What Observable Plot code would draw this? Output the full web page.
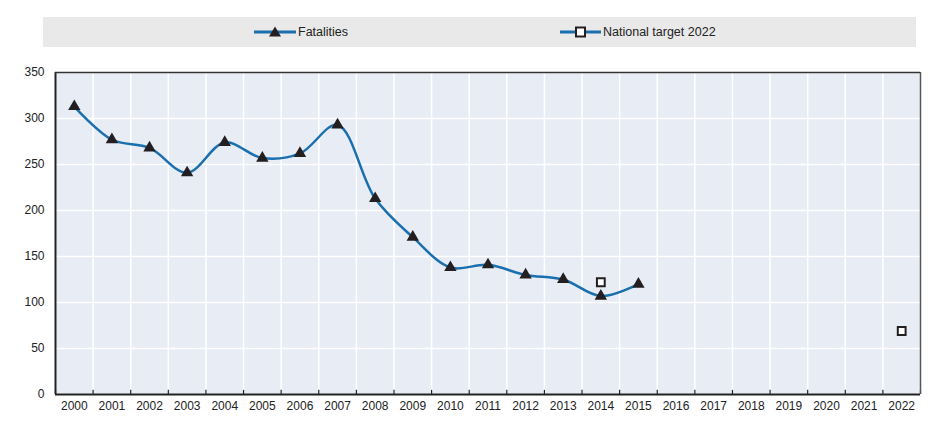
<!DOCTYPE html>
<html>
<head>
<meta charset="utf-8">
<script src="https://cdn.jsdelivr.net/npm/d3@7"></script>
<script src="https://cdn.jsdelivr.net/npm/@observablehq/plot@0.6"></script>
<style>
  body { margin: 0; background: #fff; font-family: "Liberation Sans", Arial, sans-serif; }
  #legend {
    position: absolute; left: 43px; top: 17px; width: 873px; height: 30px;
    background: #e9e9e9;
    font-family: "Liberation Sans Narrow", "Arial Narrow", "Liberation Sans", sans-serif;
    font-size: 12.5px; color: #222;
  }
  .item { position: absolute; top: 0; height: 30px; display: flex; align-items: center; }
  .item svg { margin-right: 2px; }
  #chart { position: absolute; left: 0; top: 47px; }
</style>
</head>
<body>
<div id="legend">
  <div class="item" style="left:211px">
    <svg width="42" height="14"><line x1="0" y1="7" x2="42" y2="7" stroke="#1a6fae" stroke-width="3"/><path d="M21,1.5 L27,11.5 L15,11.5 Z" fill="#231f20"/></svg>
    <span>Fatalities</span>
  </div>
  <div class="item" style="left:517px">
    <svg width="41" height="14"><line x1="0" y1="7" x2="41" y2="7" stroke="#1a6fae" stroke-width="3"/><rect x="16" y="2.5" width="9" height="9" fill="#fff" stroke="#231f20" stroke-width="2"/></svg>
    <span>National target 2022</span>
  </div>
</div>
<div id="chart"></div>
<script>
const years = d3.range(2000, 2023);
const fatalityYears = [2000,2001,2002,2003,2004,2005,2006,2007,2008,2009,2010,2011,2012,2013,2014,2015];
const fatalities = [313,277,268,241,274,257,262,293,213,171,138,141,130,125,107,120];
const targetYears = [2014, 2022];
const targets = [122, 69];
const yTicks = [0,50,100,150,200,250,300,350];

const fatalData = fatalityYears.map((y, i) => ({year: y, value: fatalities[i]}));
const targetData = targetYears.map((y, i) => ({year: y, value: targets[i]}));
const bounds = years.map(y => y - 0.5).concat([years[years.length - 1] + 0.5]);

const chart = Plot.plot({
  width: 935,
  height: 377,
  marginLeft: 55,
  marginRight: 15,
  marginTop: 25,
  marginBottom: 30,
  style: {fontFamily: '"Liberation Sans", Arial, sans-serif', fontSize: "12px", color: "#222", background: "transparent"},
  x: {domain: [1999.5, 2022.5], label: null},
  y: {domain: [0, 350], label: null},
  marks: [
    Plot.frame({fill: "#e7ecf5", stroke: null}),
    Plot.gridY(yTicks, {stroke: "#fff", strokeOpacity: 1, strokeWidth: 1.5}),
    Plot.gridX(bounds, {stroke: "#fff", strokeOpacity: 1, strokeWidth: 1.5}),
    Plot.axisY(yTicks, {tickSize: 0, tickPadding: 11, fontSize: 12}),
    Plot.ruleX(bounds, {y1: 0, y2: 4.5, stroke: "#222", strokeWidth: 1.2}),
    Plot.axisX(years, {tickSize: 0, tickPadding: 7, tickFormat: d => String(d), fontSize: 12}),
    Plot.ruleY([0], {stroke: "#222", strokeWidth: 2}),
    Plot.ruleX([1999.5], {stroke: "#222", strokeWidth: 2}),
    Plot.ruleX([2022.5], {stroke: "#555", strokeWidth: 1.5}),
    Plot.ruleY([350], {stroke: "#333", strokeWidth: 1.5}),
    Plot.line(fatalData, {x: "year", y: "value", curve: "catmull-rom", stroke: "#1a6fae", strokeWidth: 2.5}),
    Plot.dot(fatalData, {x: "year", y: "value", symbol: "triangle", r: 4.6, fill: "#231f20", stroke: null}),
    Plot.dot(targetData, {x: "year", y: "value", symbol: "square", r: 4.4, fill: "#fff", stroke: "#231f20", strokeWidth: 2})
  ]
});
document.getElementById("chart").appendChild(chart);
</script>
</body>
</html>
